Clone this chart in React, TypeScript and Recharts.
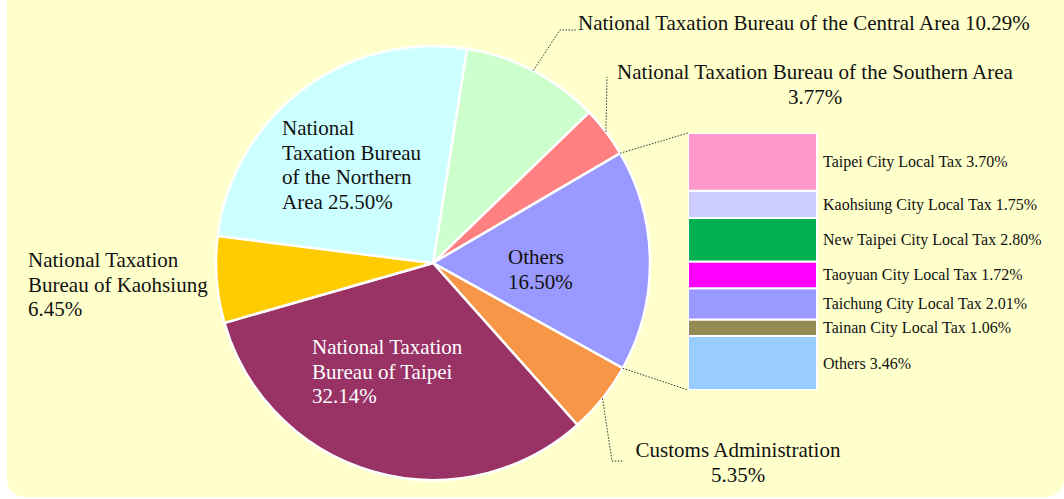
import { PieChart, Pie, Cell, BarChart, Bar, XAxis, YAxis, LabelList } from 'recharts'

// main pie: slices clockwise from the top
const sliceNames = [
  'National Taxation Bureau of the Central Area',
  'National Taxation Bureau of the Southern Area',
  'Others',
  'Customs Administration',
  'National Taxation Bureau of Taipei',
  'National Taxation Bureau of Kaohsiung',
  'National Taxation Bureau of the Northern Area',
]
const sliceValues = [10.29, 3.77, 16.5, 5.35, 32.14, 6.45, 25.5]

// breakdown of "Others", top to bottom
const localTaxNames = [
  'Taipei City Local Tax',
  'Kaohsiung City Local Tax',
  'New Taipei City Local Tax',
  'Taoyuan City Local Tax',
  'Taichung City Local Tax',
  'Tainan City Local Tax',
  'Others',
]
const localTaxValues = [3.7, 1.75, 2.8, 1.72, 2.01, 1.06, 3.46]

const sliceColors = ['#CCFFCC', '#FF8080', '#9999FF', '#F79646', '#993366', '#FFCC00', '#CCFFFF']
const localTaxColors = ['#FF99CC', '#CCCCFF', '#00B050', '#FF00FF', '#9999FF', '#948A54', '#99CCFF']

const FONT = '"Liberation Serif", "Times New Roman", serif'
const W = 1064
const H = 499
const CX = 433
const CY = 263
const R = 217
const BAR = { x: 688, y: 133, w: 129, h: 257, labelW: 240 }
const LINE_H = 24.5
const RAD = Math.PI / 180

// label placement per slice, offsets from the pie centre
type LabelLayout = {
  dx: number
  dy: number
  anchor: 'start' | 'middle'
  breaks: number[]
  fill?: string
  leader?: [number, number][]
}
const labelLayout: LabelLayout[] = [
  { dx: 145, dy: -240, anchor: 'start', breaks: [8], leader: [[127, -233], [143, -233]] },
  { dx: 382, dy: -191, anchor: 'middle', breaks: [7, 1], leader: [[174, -186]] },
  { dx: 75, dy: -6, anchor: 'start', breaks: [1, 1] },
  { dx: 305, dy: 187, anchor: 'middle', breaks: [2, 1], leader: [[179, 198], [190, 198]] },
  { dx: -121, dy: 84, anchor: 'start', breaks: [2, 3, 1], fill: '#fff' },
  { dx: -405, dy: -3, anchor: 'start', breaks: [2, 3, 1] },
  { dx: -151, dy: -135, anchor: 'start', breaks: [1, 2, 3, 2] },
]

const pieData = sliceNames.map((name, i) => ({ name, value: sliceValues[i] }))

const barRow: Record<string, string | number> = { group: 'Others' }
localTaxValues.forEach((v, i) => {
  barRow['t' + i] = v
})

const polar = (cx: number, cy: number, r: number, a: number): [number, number] => [
  cx + r * Math.cos(a * RAD),
  cy - r * Math.sin(a * RAD),
]

function splitWords(text: string, breaks: number[]) {
  const words = text.split(' ')
  const lines: string[] = []
  let k = 0
  breaks.forEach((n) => {
    lines.push(words.slice(k, k + n).join(' '))
    k += n
  })
  return lines
}

function renderPieLabel(props: any) {
  const { cx, cy, outerRadius, midAngle, startAngle, endAngle, index, name, value } = props
  const lay = labelLayout[index]
  const lines = splitWords(`${name} ${Number(value).toFixed(2)}%`, lay.breaks)
  const els: any[] = []
  if (lay.leader) {
    const pts = [polar(cx, cy, outerRadius, midAngle), ...lay.leader.map(([dx, dy]) => [cx + dx, cy + dy])]
    els.push(
      <polyline
        key="leader"
        points={pts.map((p) => p.join(',')).join(' ')}
        fill="none"
        stroke="#333"
        strokeWidth={1}
        strokeDasharray="1.5 1.5"
      />
    )
  }
  if (index === 2) {
    // connectors from the "Others" slice to the breakdown bar
    const a = polar(cx, cy, outerRadius, startAngle)
    const b = polar(cx, cy, outerRadius, endAngle)
    els.push(
      <line key="c1" x1={a[0]} y1={a[1]} x2={BAR.x} y2={BAR.y} stroke="#333" strokeDasharray="1.5 1.5" />,
      <line key="c2" x1={b[0]} y1={b[1]} x2={BAR.x} y2={BAR.y + BAR.h} stroke="#333" strokeDasharray="1.5 1.5" />
    )
  }
  els.push(
    <text
      key="t"
      x={cx + lay.dx}
      y={cy + lay.dy}
      textAnchor={lay.anchor}
      dominantBaseline="central"
      fontFamily={FONT}
      fontSize={21}
      fill={lay.fill ?? '#111'}
    >
      {lines.map((l, i) => (
        <tspan key={i} x={cx + lay.dx} y={cy + lay.dy + i * LINE_H}>
          {l}
        </tspan>
      ))}
    </text>
  )
  return <g>{els}</g>
}

const barLabel = (i: number) => (p: any) => {
  const vb = p.viewBox ?? p
  const x = vb.x ?? p.x
  const y = vb.y ?? p.y
  const w = vb.width ?? p.width
  const h = vb.height ?? p.height
  return (
    <text
      x={x + w + 6}
      y={y + h / 2}
      dominantBaseline="central"
      fontFamily={FONT}
      fontSize={16}
      fill="#111"
    >
      {`${localTaxNames[i]} ${Number(p.value).toFixed(2)}%`}
    </text>
  )
}

export default function App() {
  const stackOrder = localTaxNames.map((_, i) => i).reverse()
  return (
    <div style={{ position: 'absolute', left: 0, top: 0, width: W, height: H, background: '#fff', overflow: 'hidden' }}>
      <div
        style={{
          position: 'absolute',
          left: 7,
          top: -20,
          width: W - 7,
          height: H + 18,
          background: '#FFFFCC',
          borderRadius: 18,
        }}
      />
      <div style={{ position: 'absolute', left: 0, top: 0 }}>
        <PieChart width={W} height={H} margin={{ top: 0, right: 0, bottom: 0, left: 0 }}>
          <Pie
            data={pieData}
            dataKey="value"
            nameKey="name"
            cx={CX}
            cy={CY}
            outerRadius={R}
            startAngle={81}
            endAngle={-279}
            stroke="#fff"
            strokeWidth={2.5}
            labelLine={false}
            label={renderPieLabel}
            isAnimationActive={false}
          >
            {pieData.map((d, i) => (
              <Cell key={d.name} fill={sliceColors[i]} />
            ))}
          </Pie>
        </PieChart>
      </div>
      <div style={{ position: 'absolute', left: BAR.x, top: BAR.y }}>
        <BarChart
          width={BAR.w + BAR.labelW}
          height={BAR.h}
          data={[barRow]}
          margin={{ top: 0, right: BAR.labelW, bottom: 0, left: 0 }}
          barCategoryGap={0}
        >
          <XAxis dataKey="group" hide />
          <YAxis hide width={0} domain={[0, localTaxValues.reduce((s, v) => s + v, 0)]} />
          {stackOrder.map((i) => (
            <Bar
              key={i}
              dataKey={'t' + i}
              stackId="s"
              fill={localTaxColors[i]}
              stroke="#fff"
              strokeWidth={2}
              isAnimationActive={false}
            >
              <LabelList dataKey={'t' + i} content={barLabel(i)} />
            </Bar>
          ))}
        </BarChart>
      </div>
    </div>
  )
}
